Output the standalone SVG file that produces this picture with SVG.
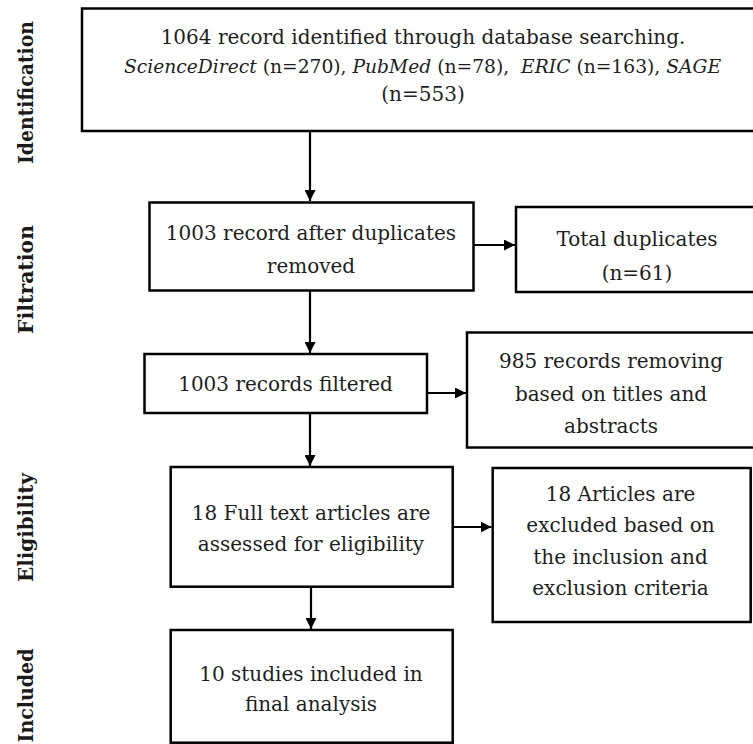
<svg xmlns="http://www.w3.org/2000/svg" width="753" height="744" viewBox="0 0 753 744">
<style>
  .box { fill: #ffffff; stroke: #000000; stroke-width: 2.5; }
  .t { font-family: "DejaVu Serif", serif; font-size: 20px; fill: #1e1e1e; text-anchor: middle; }
  .i { font-style: italic; }
  .lbl { font-family: "DejaVu Serif", serif; font-size: 20px; font-weight: bold; fill: #1a1a1a; text-anchor: middle; }
  .conn { stroke: #000000; stroke-width: 2.2; fill: none; marker-end: url(#arr); }
</style>
<defs>
  <marker id="arr" viewBox="0 0 10 10" refX="10" refY="5" markerWidth="11" markerHeight="11" markerUnits="userSpaceOnUse" orient="auto">
    <path d="M0,0 L10,5 L0,10 z" fill="#000000"/>
  </marker>
</defs>
<rect width="753" height="744" fill="#ffffff"/>

<g id="stage-labels">
  <text class="lbl" transform="translate(33,92.5) rotate(-90)" textLength="143" lengthAdjust="spacingAndGlyphs">Identification</text>
  <text class="lbl" transform="translate(33,279.5) rotate(-90)" textLength="109" lengthAdjust="spacingAndGlyphs">Filtration</text>
  <text class="lbl" transform="translate(33,527.5) rotate(-90)" textLength="109" lengthAdjust="spacingAndGlyphs">Eligibility</text>
  <text class="lbl" transform="translate(33,695.5) rotate(-90)" textLength="94" lengthAdjust="spacingAndGlyphs">Included</text>
</g>

<g id="connectors">
  <line class="conn" x1="310" y1="131" x2="310" y2="201"/>
  <line class="conn" x1="474" y1="245" x2="515" y2="245"/>
  <line class="conn" x1="310" y1="291" x2="310" y2="353"/>
  <line class="conn" x1="427" y1="393" x2="466" y2="393"/>
  <line class="conn" x1="310" y1="413" x2="310" y2="466"/>
  <line class="conn" x1="453" y1="527" x2="491.5" y2="527"/>
  <line class="conn" x1="311" y1="587" x2="311" y2="629"/>
</g>

<g id="node-identified">
  <rect class="box" x="82" y="8.5" width="682" height="122.5"/>
  <text class="t" x="423" y="43.5">1064 record identified through database searching.</text>
  <text class="t" x="422.5" y="72.5" style="font-size:18.7px" xml:space="preserve"><tspan class="i">ScienceDirect</tspan> (n=270), <tspan class="i">PubMed</tspan> (n=78),  <tspan class="i">ERIC</tspan> (n=163), <tspan class="i">SAGE</tspan></text>
  <text class="t" x="423" y="101">(n=553)</text>
</g>

<g id="node-after-duplicates">
  <rect class="box" x="149.5" y="202.5" width="324" height="88"/>
  <text class="t" x="311" y="239.5">1003 record after duplicates</text>
  <text class="t" x="311" y="273">removed</text>
</g>

<g id="node-total-duplicates">
  <rect class="box" x="516" y="207" width="242" height="85"/>
  <text class="t" x="637" y="246">Total duplicates</text>
  <text class="t" x="637" y="280">(n=61)</text>
</g>

<g id="node-filtered">
  <rect class="box" x="144.5" y="354" width="282.5" height="59"/>
  <text class="t" x="285.5" y="391">1003 records filtered</text>
</g>

<g id="node-removed-titles">
  <rect class="box" x="467" y="332.5" width="290" height="115"/>
  <text class="t" x="611" y="368">985 records removing</text>
  <text class="t" x="611" y="400.5">based on titles and</text>
  <text class="t" x="611" y="432.5">abstracts</text>
</g>

<g id="node-full-text">
  <rect class="box" x="170.7" y="467" width="282" height="119.7"/>
  <text class="t" x="311" y="520">18 Full text articles are</text>
  <text class="t" x="311" y="551">assessed for eligibility</text>
</g>

<g id="node-excluded">
  <rect class="box" x="492.7" y="468" width="258" height="154"/>
  <text class="t" x="620.5" y="500.5">18 Articles are</text>
  <text class="t" x="620.5" y="532">excluded based on</text>
  <text class="t" x="620.5" y="563.7">the inclusion and</text>
  <text class="t" x="620.5" y="595.3">exclusion criteria</text>
</g>

<g id="node-included">
  <rect class="box" x="170.7" y="630" width="282" height="112.7"/>
  <text class="t" x="311" y="680.5">10 studies included in</text>
  <text class="t" x="311" y="711">final analysis</text>
</g>
</svg>
